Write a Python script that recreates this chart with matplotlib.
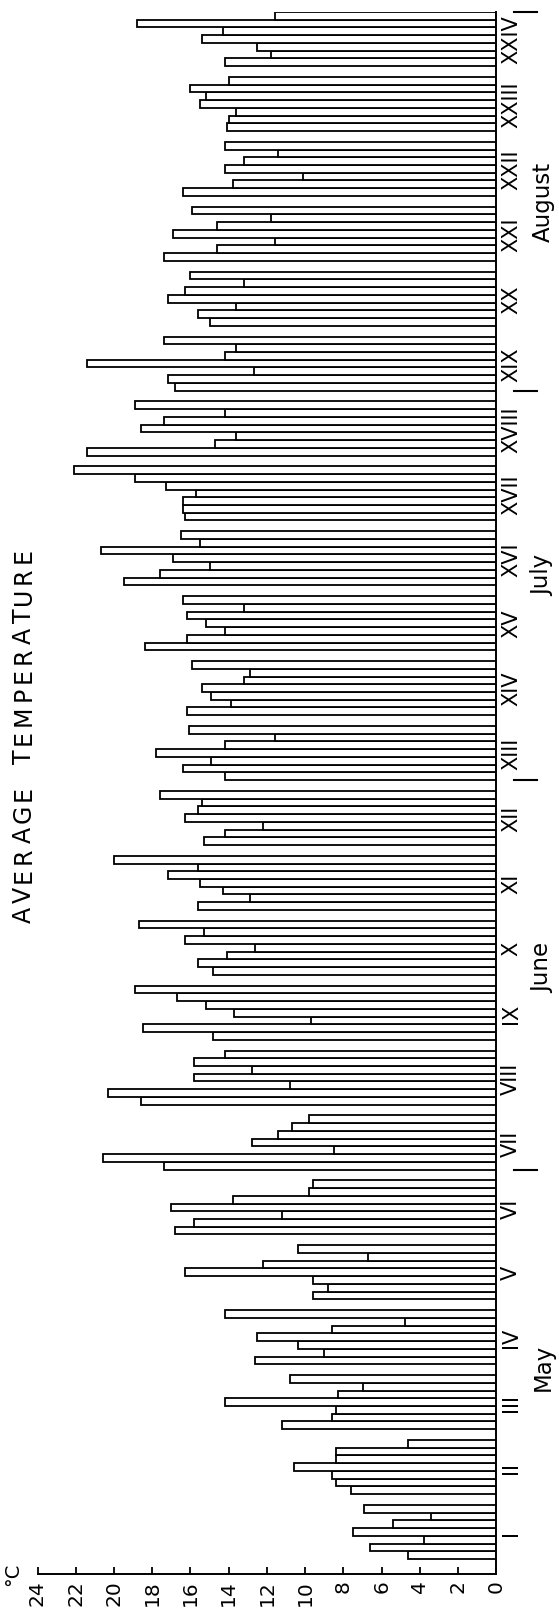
"""Average daily temperature, May-August, 24 weekly blocks of 7 days (chart drawn sideways)."""
import numpy as np
import matplotlib; matplotlib.use("Agg"); import matplotlib.pyplot as plt
import matplotlib.transforms as mtrans
from matplotlib import font_manager

weeks = ["I", "II", "III", "IV", "V", "VI", "VII", "VIII", "IX", "X", "XI", "XII",
         "XIII", "XIV", "XV", "XVI", "XVII", "XVIII", "XIX", "XX", "XXI", "XXII", "XXIII", "XXIV"]
months = ["May", "June", "July", "August"]
# mean temperature in °C, one row per week, days in order
may = [[4.6, 6.6, 3.8, 7.5, 5.4, 3.4, 6.9],
       [7.6, 8.4, 8.6, 10.6, 8.4, 8.4, 4.6],
       [11.2, 8.6, 8.4, 14.2, 8.3, 7.0, 10.8],
       [12.6, 9.0, 10.4, 12.5, 8.6, 4.8, 14.2],
       [9.6, 8.8, 9.6, 16.3, 12.2, 6.7, 10.4],
       [16.8, 15.8, 11.2, 17.0, 13.8, 9.8, 9.6]]
june = [[17.4, 20.6, 8.5, 12.8, 11.4, 10.7, 9.8],
        [18.6, 20.3, 10.8, 15.8, 12.8, 15.8, 14.2],
        [14.8, 18.5, 9.7, 13.7, 15.2, 16.7, 18.9],
        [14.8, 15.6, 14.1, 12.6, 16.3, 15.3, 18.7],
        [15.6, 12.9, 14.3, 15.5, 17.2, 15.6, 20.0],
        [15.3, 14.2, 12.2, 16.3, 15.6, 15.4, 17.6]]
july = [[14.2, 16.4, 14.9, 17.8, 14.2, 11.6, 16.1],
        [16.2, 13.9, 14.9, 15.4, 13.2, 12.9, 15.9],
        [18.4, 16.2, 14.2, 15.2, 16.2, 13.2, 16.4],
        [19.5, 17.6, 15.0, 16.9, 20.7, 15.5, 16.5],
        [16.3, 16.4, 16.4, 15.7, 17.3, 18.9, 22.1],
        [21.4, 14.7, 13.6, 18.6, 17.4, 14.2, 18.9]]
august = [[16.8, 17.2, 12.7, 21.4, 14.2, 13.6, 17.4],
          [15.0, 15.6, 13.6, 17.2, 16.3, 13.2, 16.0],
          [17.4, 14.6, 11.6, 16.9, 14.6, 11.8, 15.9],
          [16.4, 13.8, 10.1, 14.2, 13.2, 11.4, 14.2],
          [14.1, 14.0, 13.6, 15.5, 15.2, 16.0, 14.0],
          [14.2, 11.8, 12.5, 15.4, 14.3, 18.8, 11.6]]

# layout (pixels of the 559x1615 image)
W, H = 559, 1615
PERIOD = 8.4            # 7 day bars + gap, in bar units
month_pos = [2.55, 8.7, 14.75, 20.5]   # label centres in week units
plt.rcParams["font.family"] = "DejaVu Sans"
names = {f.name for f in font_manager.fontManager.ttflist}
tick_font = "Liberation Sans Narrow" if "Liberation Sans Narrow" in names else "DejaVu Sans"
tick_size = 17 if tick_font != "DejaVu Sans" else 14.5

vals = np.array(may + june + july + august)
pos = np.arange(len(weeks))[:, None] * PERIOD + np.arange(7)[None, :]

fig = plt.figure(figsize=(W / 100, H / 100), dpi=100)
ax = fig.add_axes([37.5 / W, 40 / H, 458.9 / W, 1562 / H])
ax.barh(pos.ravel(), vals.ravel(), height=1.0, color="white", edgecolor="black", linewidth=1.3)
ax.set_xlim(24, 0)
ax.set_ylim(-2.44, (len(weeks) - 1) * PERIOD + 6.5)
for s in ("left", "top"): ax.spines[s].set_visible(False)
for s in ("right", "bottom"): ax.spines[s].set_linewidth(1.4)
ax.set_yticks([])
ax.set_xticks(range(0, 25, 2))
ax.tick_params(axis="x", direction="in", length=5, width=1.3, labelsize=tick_size, labelrotation=90, pad=4)
for lab in ax.get_xticklabels(): lab.set_family(tick_font)
fig.text(13 / W, 1 - 1574 / H, "°C", rotation=90, ha="center", va="center", fontsize=14)

tr = mtrans.blended_transform_factory(ax.transAxes, ax.transData)
for i, w in enumerate(weeks):
    ax.text(1.0318, i * PERIOD + 3, w, transform=tr, rotation=90, ha="center", va="center",
            fontsize=15, clip_on=False)
for m, p in zip(months, month_pos):
    ax.text(1.1015, p * PERIOD + 3, m, transform=tr, rotation=90, ha="center", va="center",
            fontsize=16.5, clip_on=False)
# month boundary marks
for y in [6 * PERIOD - 0.5, 12 * PERIOD - 0.5, 18 * PERIOD - 0.5, 23 * PERIOD + 6.5]:
    ax.plot([1.0384, 1.0885], [y, y], transform=tr, color="black", lw=1.5, clip_on=False)

# letter-spaced title, bottom to top, fitted between y=923 and y=548 px
r = fig.canvas.get_renderer()
title = "AVERAGE TEMPERATURE"
px = mtrans.IdentityTransform()
chars = [fig.text(24, 0, c, rotation=90, ha="center", va="bottom", fontsize=17, transform=px)
         for c in title if c != " "]
sizes = [t.get_window_extent(renderer=r).height for t in chars]
word_gap = 22
track = (375 - word_gap - sum(sizes)) / (len(chars) - 2)
y = H - 923
for k, (t, h) in enumerate(zip(chars, sizes)):
    t.set_position((24, y))
    y += h + (word_gap if k == 6 else track)

fig.savefig("out.png", dpi=100)
print("saved", tick_font)
